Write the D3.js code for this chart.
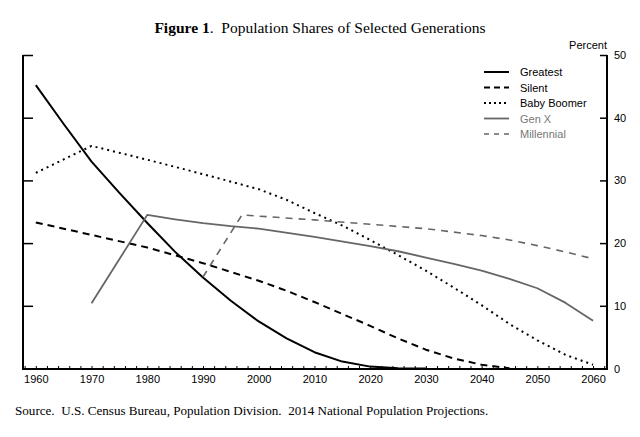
<!DOCTYPE html>
<html><head><meta charset="utf-8">
<script src="https://cdn.jsdelivr.net/npm/d3@7"></script>
<style>body{margin:0;background:#fff}svg{display:block}</style>
</head><body>
<script>
const yearTicks = [1960,1970,1980,1990,2000,2010,2020,2030,2040,2050,2060];
const valueTicks = [0,10,20,30,40,50];
const greatest = [[1960,45.2],[1965,39],[1970,33],[1975,28],[1980,23.2],[1985,18.6],[1990,14.5],[1995,10.8],[2000,7.5],[2005,4.8],[2010,2.6],[2015,1.1],[2020,0.3],[2025,0.03],[2030,0]];
const silent = [[1960,23.3],[1970,21.3],[1980,19.3],[1990,16.8],[2000,14.0],[2005,12.4],[2010,10.6],[2015,8.7],[2020,6.8],[2025,4.8],[2030,3.0],[2035,1.6],[2040,0.6],[2045,0.05]];
const boomer = [[1960,31.2],[1970,35.5],[1980,33.3],[1990,31.0],[2000,28.6],[2005,26.9],[2010,24.8],[2015,22.8],[2020,20.5],[2025,18.1],[2030,15.6],[2035,12.9],[2040,10.1],[2045,7.1],[2050,4.5],[2055,2.2],[2060,0.6]];
const genx = [[1970,10.4],[1980,24.5],[1985,23.8],[1990,23.2],[1995,22.7],[2000,22.3],[2010,21.0],[2020,19.5],[2025,18.7],[2030,17.7],[2035,16.7],[2040,15.6],[2045,14.3],[2050,12.8],[2055,10.5],[2060,7.6]];
const millennial = [[1990,14.6],[1997,24.5],[2000,24.3],[2010,23.7],[2020,23.0],[2030,22.3],[2040,21.2],[2045,20.5],[2050,19.6],[2055,18.6],[2060,17.5]];
const seriesNames = ["Greatest","Silent","Baby Boomer","Gen X","Millennial"];

const W=640,H=437;
const svg=d3.select("body").append("svg").attr("width",W).attr("height",H);
const x=d3.scaleLinear().domain([1957.7,2062.5]).range([23,607]);
const y=d3.scaleLinear().domain([0,50]).range([368.5,55]);

const styles=[
 {data:greatest,color:"#000",w:2,dash:null,text:"#000"},
 {data:silent,color:"#000",w:2,dash:"7,5",text:"#000"},
 {data:boomer,color:"#000",w:2,dash:"2,4",text:"#000"},
 {data:genx,color:"#666",w:1.8,dash:null,text:"#777"},
 {data:millennial,color:"#666",w:1.6,dash:"7,6",text:"#777"}
];

// title
const t=svg.append("text").attr("x",320).attr("y",33).attr("text-anchor","middle")
 .attr("font-family","Liberation Serif, Times New Roman, serif").attr("font-size",15.5).attr("fill","#000")
 .attr("xml:space","preserve");
t.append("tspan").attr("font-weight","bold").text("Figure 1");
t.append("tspan").text(".  Population Shares of Selected Generations");

// left axis
const gL=svg.append("g").attr("transform","translate(23,0)");
gL.call(d3.axisRight(y).tickValues(valueTicks).tickSize(10).tickFormat(""));
gL.select(".domain").remove();
gL.selectAll("line").attr("stroke","#000").attr("stroke-width",1.5);
svg.append("line").attr("x1",23).attr("x2",23).attr("y1",55).attr("y2",369).attr("stroke","#000").attr("stroke-width",2);

// right axis
const gR=svg.append("g").attr("transform","translate(607,0)");
gR.call(d3.axisLeft(y).tickValues(valueTicks).tickSize(7).tickFormat(""));
gR.select(".domain").remove();
gR.selectAll("line").attr("stroke","#000").attr("stroke-width",1.5);
svg.append("line").attr("x1",607).attr("x2",607).attr("y1",55).attr("y2",369).attr("stroke","#000").attr("stroke-width",2);
svg.selectAll(".rlab").data(valueTicks).enter().append("text")
 .attr("x",614).attr("y",d=>y(d)+4).text(d=>d)
 .attr("font-family","Liberation Sans, Arial, sans-serif").attr("font-size",11).attr("fill","#000");
svg.append("text").attr("x",607).attr("y",49).attr("text-anchor","end").text("Percent")
 .attr("font-family","Liberation Sans, Arial, sans-serif").attr("font-size",11).attr("fill","#000");

// bottom axis
const minor=d3.range(1958,2063,2);
const gB=svg.append("g").attr("transform","translate(0,369)");
gB.call(d3.axisTop(x).tickValues(minor).tickSize(3).tickFormat(""));
gB.select(".domain").remove();
gB.selectAll("line").attr("stroke","#000").attr("stroke-width",1);
const gB2=svg.append("g").attr("transform","translate(0,369)");
gB2.call(d3.axisBottom(x).tickValues(yearTicks).tickSize(0).tickPadding(6).tickFormat(d3.format("d")));
gB2.select(".domain").remove();
gB2.selectAll("text").attr("font-family","Liberation Sans, Arial, sans-serif").attr("font-size",11).attr("fill","#000");
svg.append("line").attr("x1",22).attr("x2",608).attr("y1",369).attr("y2",369).attr("stroke","#000").attr("stroke-width",2);

// lines
const line=d3.line().x(d=>x(d[0])).y(d=>y(d[1])).curve(d3.curveLinear);
styles.forEach(s=>{
  const p=svg.append("path").datum(s.data).attr("d",line).attr("fill","none")
   .attr("stroke",s.color).attr("stroke-width",s.w).attr("stroke-linejoin","round");
  if(s.dash) p.attr("stroke-dasharray",s.dash);
});

// legend
const lg=svg.append("g");
styles.forEach((s,i)=>{
  const yy=72+i*15.5;
  const l=lg.append("line").attr("x1",484).attr("x2",509).attr("y1",yy).attr("y2",yy)
    .attr("stroke",s.color).attr("stroke-width",s.w);
  if(s.dash) l.attr("stroke-dasharray",s.dash==="2,4"?"2,3":(i===1?"6,4":"5,5"));
  lg.append("text").attr("x",520).attr("y",yy+4).text(seriesNames[i])
    .attr("font-family","Liberation Sans, Arial, sans-serif").attr("font-size",11).attr("fill",s.text);
});

// source
svg.append("text").attr("x",15).attr("y",415)
 .attr("font-family","Liberation Serif, Times New Roman, serif").attr("font-size",13.1).attr("fill","#000")
 .attr("xml:space","preserve")
 .text("Source.  U.S. Census Bureau, Population Division.  2014 National Population Projections.");
</script>
</body></html>
